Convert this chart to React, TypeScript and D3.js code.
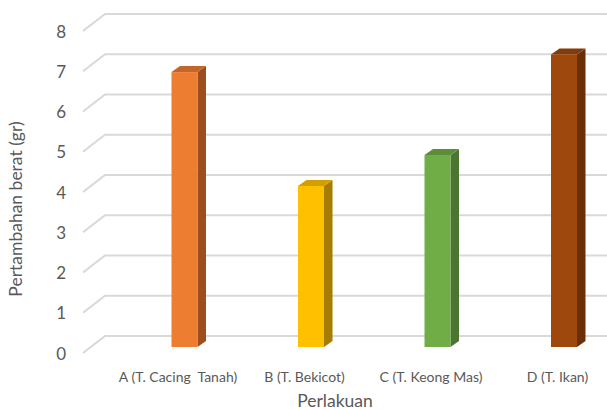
import React from "react";
import * as d3 from "d3";

// Weight gain (gr) per feed treatment
const categories = ["A (T. Cacing  Tanah)", "B (T. Bekicot)", "C (T. Keong Mas)", "D (T. Ikan)"];
const values = [6.83, 4.0, 4.77, 7.27];
const frontColors = ["#ED7D31", "#FFC000", "#70AD47", "#9E480E"];
const sideColors = ["#9C4E1E", "#A67D00", "#4B7530", "#6A2F09"];
const topColors = ["#C4662A", "#D29E00", "#5C8E3A", "#823B0B"];
const yTicks = [0, 1, 2, 3, 4, 5, 6, 7, 8];

const W = 607;
const H = 410;
const FONT = "Lato, 'Open Sans', sans-serif";

export default function App() {
  // vertical value scale on the back wall
  const yBack = d3.scaleLinear().domain([0, 8]).range([336, 14]);
  // floor depth offset (front edge to back wall)
  const depthX = 22;
  const depthY = 17;
  // bars stand partway into the floor
  const barBase = 347;
  const yBar = d3.scaleLinear().domain([0, 8]).range([barBase, barBase - 322]);
  const xCenter = d3.scalePoint<string>().domain(categories).range([184.5, 564]);
  const barW = 26;
  const bdx = 8.5;
  const bdy = 6;

  return (
    <svg width={W} height={H} style={{ position: "absolute", left: 0, top: 0, background: "#fff" }}>
      {/* gridlines: diagonal side segment then across the back wall */}
      {yTicks.map((t) => {
        const yb = yBack(t);
        const yf = yb + depthY;
        const x0 = 83;
        return (
          <g key={t}>
            <polyline
              points={`${x0},${yf} ${x0 + depthX},${yb} ${W},${yb}`}
              fill="none"
              stroke="#d9d9d9"
              strokeWidth={2.2}
            />
            <text
              x={66}
              y={yf}
              textAnchor="end"
              dominantBaseline="central"
              fontFamily={FONT}
              fontSize={17}
              fill="#595959"
            >
              {t}
            </text>
          </g>
        );
      })}

      {/* bars */}
      {categories.map((c, i) => {
        const cx = xCenter(c) as number;
        const x0 = cx - barW / 2;
        const x1 = cx + barW / 2;
        const yT = yBar(values[i]);
        const yB = barBase;
        return (
          <g key={c}>
            <polygon
              points={`${x1},${yT} ${x1 + bdx},${yT - bdy} ${x1 + bdx},${yB - bdy} ${x1},${yB}`}
              fill={sideColors[i]}
            />
            <polygon
              points={`${x0},${yT} ${x0 + bdx},${yT - bdy} ${x1 + bdx},${yT - bdy} ${x1},${yT}`}
              fill={topColors[i]}
            />
            <rect x={x0} y={yT} width={barW} height={yB - yT} fill={frontColors[i]} />
            <text
              x={cx - 6.5}
              y={376}
              textAnchor="middle"
              dominantBaseline="central"
              fontFamily={FONT}
              fontSize={14}
              fill="#595959"
              style={{ whiteSpace: "pre" }}
            >
              {c}
            </text>
          </g>
        );
      })}

      {/* axis titles */}
      <text
        x={335}
        y={400}
        textAnchor="middle"
        dominantBaseline="central"
        fontFamily={FONT}
        fontSize={17.5}
        fill="#595959"
      >
        Perlakuan
      </text>
      <text
        transform={`translate(15,209) rotate(-90)`}
        textAnchor="middle"
        dominantBaseline="central"
        fontFamily={FONT}
        fontSize={17.5}
        fill="#595959"
      >
        Pertambahan berat (gr)
      </text>
    </svg>
  );
}
